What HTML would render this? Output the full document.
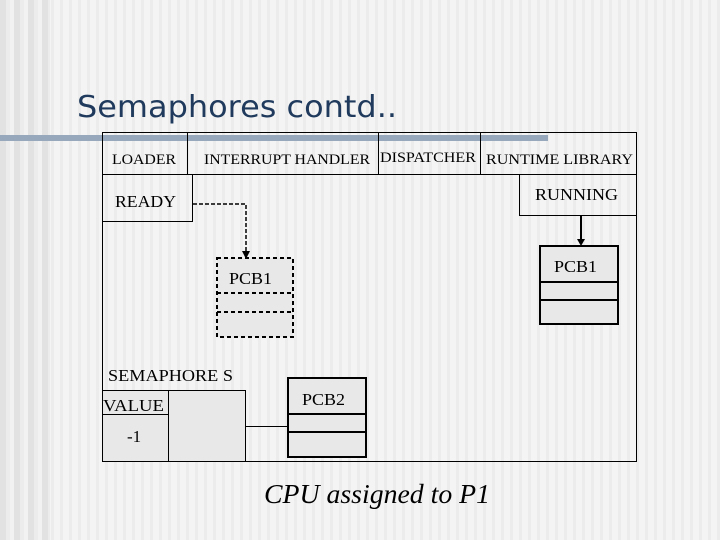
<!DOCTYPE html>
<html><head><meta charset="utf-8"><style>
html,body{margin:0;padding:0}
body{width:720px;height:540px;overflow:hidden;position:relative;
background:repeating-linear-gradient(90deg,#f4f4f4 0 6px,#ececec 6px 9px);}
.l{position:absolute;left:0;top:0;width:50px;height:540px;background:repeating-linear-gradient(90deg,#e2e2e2 0 6px,#ececec 6px 10px,#f2f2f2 10px 14px)}
svg{position:absolute;left:0;top:0}
text{font-family:"Liberation Serif",serif;fill:#000}
</style></head><body><div class="l"></div>
<svg width="720" height="540">
<rect x="0" y="135" width="548" height="6" fill="#98a8bc"/>
<text x="77" y="117" style="font-family:'DejaVu Sans',sans-serif;font-size:30px;fill:#1f3a5c" textLength="320" lengthAdjust="spacingAndGlyphs">Semaphores contd..</text>
<g stroke="#000" stroke-width="1" fill="none">
<rect x="102.5" y="132.5" width="534" height="329"/>
<line x1="102" y1="174.5" x2="636" y2="174.5"/>
<line x1="187.5" y1="132" x2="187.5" y2="174"/>
<line x1="378.5" y1="132" x2="378.5" y2="174"/>
<line x1="480.5" y1="132" x2="480.5" y2="174"/>
<rect x="102.5" y="174.5" width="90" height="47"/>
<rect x="519.5" y="174.5" width="117" height="41"/>
</g>
<g font-size="15" lengthAdjust="spacingAndGlyphs">
<text x="112" y="164" textLength="64" lengthAdjust="spacingAndGlyphs">LOADER</text>
<text x="204" y="164" textLength="166" lengthAdjust="spacingAndGlyphs">INTERRUPT HANDLER</text>
<text x="380" y="162" textLength="96" lengthAdjust="spacingAndGlyphs">DISPATCHER</text>
<text x="486" y="164" textLength="147" lengthAdjust="spacingAndGlyphs">RUNTIME LIBRARY</text>
</g>
<text x="115" y="207" font-size="17" textLength="61" lengthAdjust="spacingAndGlyphs">READY</text>
<text x="535" y="200" font-size="17" textLength="83" lengthAdjust="spacingAndGlyphs">RUNNING</text>
<polyline points="193,204 246,204 246,252" fill="none" stroke="#000" stroke-width="1.5" stroke-dasharray="4,2"/>
<polygon points="242,251 250,251 246,259" fill="#000"/>
<rect x="217" y="258" width="76" height="79" fill="#e8e8e8" stroke="#000" stroke-width="2" stroke-dasharray="4,3"/>
<line x1="217" y1="293" x2="293" y2="293" stroke="#000" stroke-width="2" stroke-dasharray="4,3"/>
<line x1="217" y1="312" x2="293" y2="312" stroke="#000" stroke-width="2" stroke-dasharray="4,3"/>
<text x="229" y="284" font-size="17" textLength="43" lengthAdjust="spacingAndGlyphs">PCB1</text>
<line x1="581" y1="216" x2="581" y2="240" stroke="#000" stroke-width="2"/>
<polygon points="577,239 585,239 581,246" fill="#000"/>
<g fill="#e8e8e8" stroke="#000" stroke-width="2">
<rect x="540" y="246" width="78" height="78"/>
<rect x="288" y="378" width="78" height="79"/>
</g>
<g stroke="#000" stroke-width="2">
<line x1="540" y1="282" x2="618" y2="282"/><line x1="540" y1="300" x2="618" y2="300"/>
<line x1="288" y1="414" x2="366" y2="414"/><line x1="288" y1="432" x2="366" y2="432"/>
</g>
<text x="554" y="272" font-size="17" textLength="43" lengthAdjust="spacingAndGlyphs">PCB1</text>
<text x="302" y="405" font-size="17" textLength="43" lengthAdjust="spacingAndGlyphs">PCB2</text>
<text x="108" y="381" font-size="17" textLength="125" lengthAdjust="spacingAndGlyphs">SEMAPHORE S</text>
<rect x="102.5" y="390.5" width="143" height="71" fill="#e8e8e8" stroke="#000"/>
<line x1="168.5" y1="390" x2="168.5" y2="462" stroke="#000"/>
<line x1="102" y1="414.5" x2="168" y2="414.5" stroke="#000"/>
<line x1="246" y1="426.5" x2="288" y2="426.5" stroke="#000"/>
<text x="103" y="411" font-size="17" textLength="61" lengthAdjust="spacingAndGlyphs">VALUE</text>
<text x="127" y="442" font-size="17">-1</text>
<text x="264" y="503" font-size="27" font-style="italic" textLength="226" lengthAdjust="spacingAndGlyphs">CPU assigned to P1</text>
</svg></body></html>
